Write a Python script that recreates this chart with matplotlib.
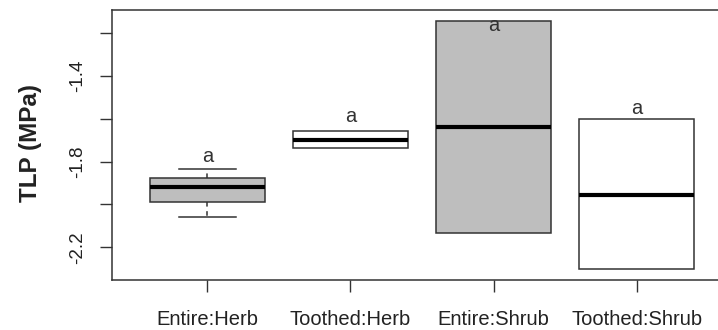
import matplotlib.pyplot as plt

plt.rcParams['font.family'] = ['Liberation Sans', 'DejaVu Sans']

# box statistics
groups = ['Entire:Herb', 'Toothed:Herb', 'Entire:Shrub', 'Toothed:Shrub']
q1 = [-1.987, -1.738, -2.135, -2.303]
med = [-1.920, -1.700, -1.638, -1.956]
q3 = [-1.877, -1.657, -1.142, -1.601]
whislo = [-2.060, -1.738, -2.135, -2.303]
whishi = [-1.835, -1.657, -1.142, -1.601]
fills = ['#bebebe', 'white', '#bebebe', 'white']

# letters from the post-hoc test and where they sit
letters = ['a', 'a', 'a', 'a']
letter_y = [-1.778, -1.590, -1.166, -1.550]

ytick_vals = [-2.2, -2.0, -1.8, -1.6, -1.4, -1.2]
ytick_labs = ['-2.2', '', '-1.8', '', '-1.4', '']

dark = '#333333'

fig = plt.figure(figsize=(7.18, 3.30), dpi=100)
ax = fig.add_axes([112 / 718, 50 / 330, 620 / 718, 270 / 330])

stats = []
for i in range(len(groups)):
    stats.append(dict(label=groups[i], q1=q1[i], med=med[i], q3=q3[i],
                      whislo=whislo[i], whishi=whishi[i]))

pos = list(range(1, len(groups) + 1))
bp = ax.bxp(stats, positions=pos, widths=0.8, patch_artist=True, showfliers=False,
            boxprops=dict(edgecolor=dark, linewidth=1.1),
            medianprops=dict(color='black', linewidth=3.0, solid_capstyle='butt'),
            whiskerprops=dict(color=dark, linewidth=1.1, linestyle=(0, (3, 3))),
            capprops=dict(color=dark, linewidth=1.1))
for patch, col in zip(bp['boxes'], fills):
    patch.set_facecolor(col)

# staples that sit right on the box edge would just darken it
for i in range(len(groups)):
    if whislo[i] == q1[i]:
        bp['caps'][2 * i].set_visible(False)
    if whishi[i] == q3[i]:
        bp['caps'][2 * i + 1].set_visible(False)

for x, y, t in zip(pos, letter_y, letters):
    ax.text(x, y, t, ha='center', va='center', fontsize=14.5, color=dark)

ax.set_xlim(0.3345, 4.6655)
ax.set_ylim(-2.353, -1.0916)

ax.set_xticks(pos)
ax.set_xticklabels(groups, fontsize=14.5, color='#222222')
ax.set_yticks(ytick_vals)
ax.set_yticklabels(ytick_labs, fontsize=13.5, color='#222222', rotation=90, va='center')
ax.tick_params(axis='x', length=8.5, width=1.0, color=dark, pad=13)
ax.tick_params(axis='y', length=8.5, width=1.0, color=dark, pad=10)

for s in ax.spines.values():
    s.set_color(dark)
    s.set_linewidth(1.1)

fig.text(31 / 718, 1 - 143.5 / 330, 'TLP (MPa)', rotation=90, ha='center', va='center',
         fontsize=17.5, fontweight='bold', color='#222222')

fig.savefig('out.png', dpi=100)
